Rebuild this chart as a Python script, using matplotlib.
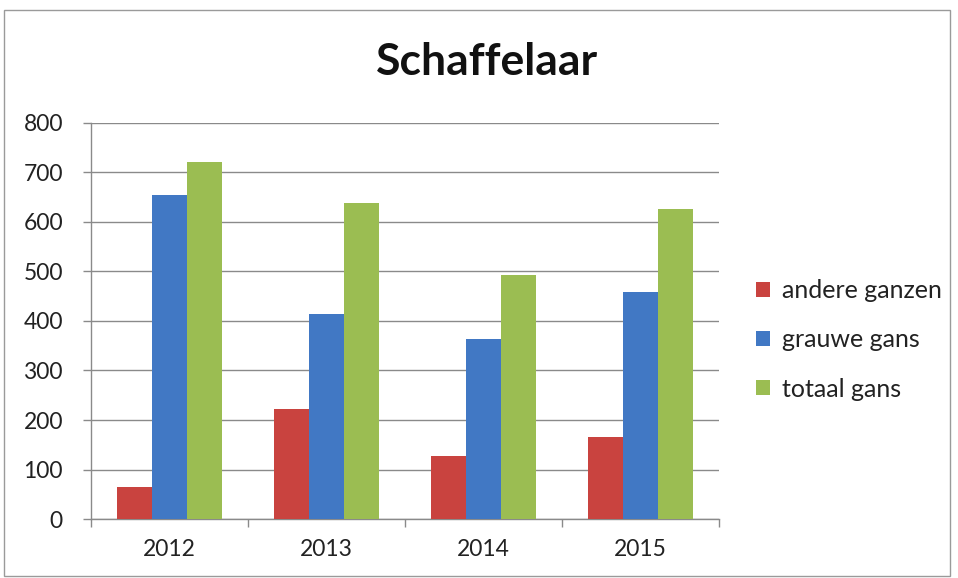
import matplotlib.pyplot as plt
import matplotlib as mpl
import numpy as np
from matplotlib.patches import Rectangle

mpl.rcParams["font.family"] = ["Lato", "DejaVu Sans"]

years = ["2012", "2013", "2014", "2015"]
series_names = ["andere ganzen", "grauwe gans", "totaal gans"]
andere_ganzen = [65, 222, 128, 165]
grauwe_gans = [653, 413, 364, 458]
totaal_gans = [721, 637, 492, 625]

colors = ["#C9433F", "#4178C4", "#9BBD52"]

fig = plt.figure(figsize=(9.58, 5.78), dpi=100)
ax = fig.add_axes([0.0947, 0.1016, 0.6558, 0.6864])

x = np.arange(len(years))
w = 0.223
for i, (vals, name) in enumerate(zip([andere_ganzen, grauwe_gans, totaal_gans], series_names)):
    ax.bar(x + (i - 1) * w, vals, width=w, color=colors[i], label=name, zorder=3)

ax.set_xlim(-0.5, len(years) - 0.5)
ax.set_ylim(0, 800)
ax.set_yticks(range(0, 801, 100))
ax.yaxis.grid(True, color="#8a8a8a", linewidth=1.0, zorder=0)
ax.set_xticks(x)
ax.set_xticklabels(years)
ax.set_xticks(np.arange(-0.5, len(years)), minor=True)
ax.tick_params(axis="x", which="major", length=0, pad=14, labelsize=16.5, colors="#222222")
ax.tick_params(axis="x", which="minor", length=6, width=1, color="#8a8a8a", direction="out")
ax.tick_params(axis="y", length=6, width=1, color="#8a8a8a", labelsize=16.5, pad=14,
               labelcolor="#222222")
for s in ["top", "right"]:
    ax.spines[s].set_visible(False)
for s in ["left", "bottom"]:
    ax.spines[s].set_color("#8a8a8a")
    ax.spines[s].set_linewidth(1.0)

fig.text(0.508, 0.893, "Schaffelaar", ha="center", va="center", fontsize=32, fontweight="bold",
         color="#111111")

leg = fig.legend(loc="center left", bbox_to_anchor=(0.789, 0.412), frameon=False,
                 fontsize=18, handlelength=0.55, handleheight=0.55, handletextpad=0.5,
                 labelspacing=1.05, labelcolor="#222222", borderpad=0, borderaxespad=0)

fig.add_artist(Rectangle((4 / 958, 2 / 578), 946 / 958, 566 / 578, transform=fig.transFigure,
                         fill=False, edgecolor="#9a9a9a", linewidth=1.0))

fig.savefig("out.png", dpi=100, facecolor="white")
